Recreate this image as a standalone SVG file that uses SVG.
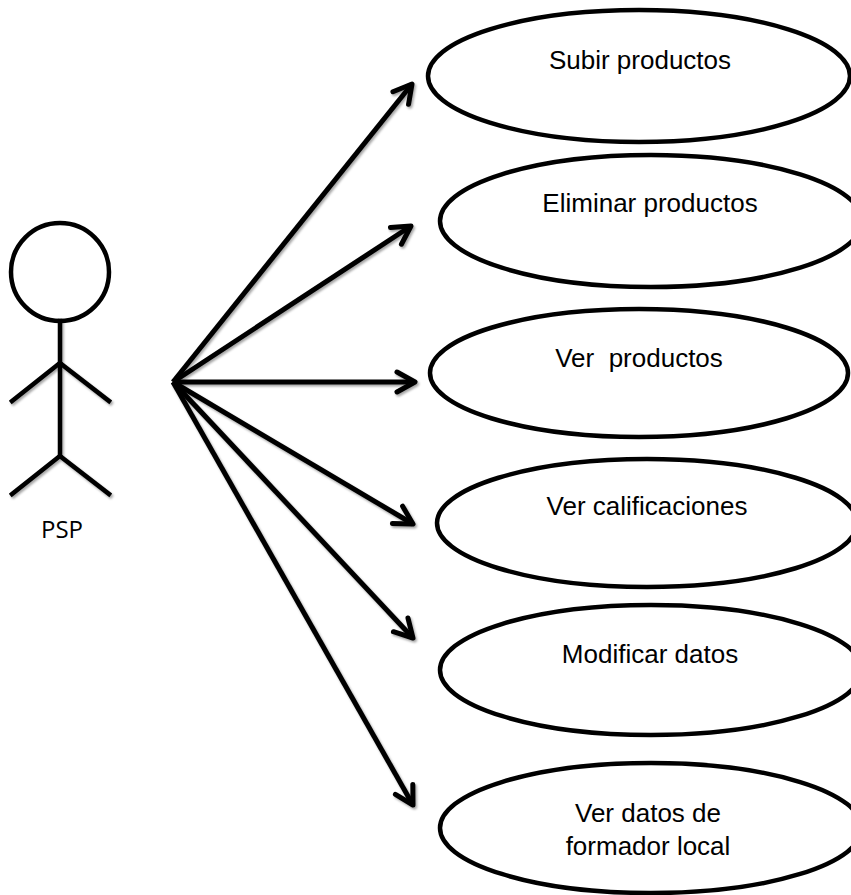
<svg xmlns="http://www.w3.org/2000/svg" width="851" height="895" viewBox="0 0 851 895">
<style>
.uc{fill:#fff;stroke:#000;stroke-width:4.5}
.lbl{font-family:"Liberation Sans",Arial,sans-serif;font-size:26px;fill:#000;text-anchor:middle}
.act{font-family:"Open Sans","Noto Sans",sans-serif;font-size:24px;fill:#000;text-anchor:middle}
.fig{fill:none;stroke:#000;stroke-width:4.5;stroke-linecap:square}
.con{fill:none;stroke:#000;stroke-width:5;marker-end:url(#arr)}
</style>
<defs>
<filter id="sh" x="-10%" y="-10%" width="120%" height="120%">
<feDropShadow dx="1.5" dy="2" stdDeviation="0.8" flood-color="#000" flood-opacity="0.35"/>
</filter>
<marker id="arr" markerUnits="userSpaceOnUse" viewBox="-24 -14 28 28" refX="0" refY="0" markerWidth="28" markerHeight="28" orient="auto" overflow="visible">
<path d="M-18,-10 L0,0 L-18,10" fill="none" stroke="#000" stroke-width="5" stroke-linecap="round" stroke-linejoin="round"/>
</marker>
</defs>
<rect width="851" height="895" fill="#fff"/>
<g id="actor-psp">
<circle cx="60" cy="272" r="49" fill="none" stroke="#000" stroke-width="4.5"/>
<g filter="url(#sh)">
<line class="fig" x1="60" y1="321" x2="60" y2="455"/>
<line class="fig" x1="12" y1="401" x2="60" y2="363"/>
<line class="fig" x1="60" y1="363" x2="109" y2="401"/>
<line class="fig" x1="12" y1="494" x2="60" y2="456"/>
<line class="fig" x1="60" y1="456" x2="109" y2="494"/>
</g>
<text class="act" x="62" y="538">PSP</text>
</g>
<g id="connectors" filter="url(#sh)">
<line class="con" x1="173" y1="382" x2="412" y2="84"/>
<line class="con" x1="173" y1="382" x2="411" y2="226"/>
<line class="con" x1="173" y1="382" x2="415" y2="382"/>
<line class="con" x1="173" y1="382" x2="413" y2="524"/>
<line class="con" x1="173" y1="382" x2="413" y2="638"/>
<line class="con" x1="173" y1="382" x2="413" y2="805"/>
</g>
<g id="uc-subir">
<ellipse class="uc" cx="639" cy="76" rx="211" ry="66"/>
<text class="lbl" x="640" y="69">Subir productos</text>
</g>
<g id="uc-eliminar">
<ellipse class="uc" cx="651" cy="221" rx="211" ry="66"/>
<text class="lbl" x="650" y="212">Eliminar productos</text>
</g>
<g id="uc-ver-productos">
<ellipse class="uc" cx="639" cy="373" rx="209" ry="64"/>
<text class="lbl" x="639" y="367" xml:space="preserve">Ver  productos</text>
</g>
<g id="uc-ver-calificaciones">
<ellipse class="uc" cx="647" cy="523" rx="210" ry="64"/>
<text class="lbl" x="647" y="515">Ver calificaciones</text>
</g>
<g id="uc-modificar">
<ellipse class="uc" cx="651" cy="670" rx="211" ry="65"/>
<text class="lbl" x="650" y="663">Modificar datos</text>
</g>
<g id="uc-ver-datos">
<ellipse class="uc" cx="651" cy="828" rx="211" ry="65"/>
<text class="lbl" x="648" y="822">Ver datos de</text>
<text class="lbl" x="648" y="855">formador local</text>
</g>
</svg>
